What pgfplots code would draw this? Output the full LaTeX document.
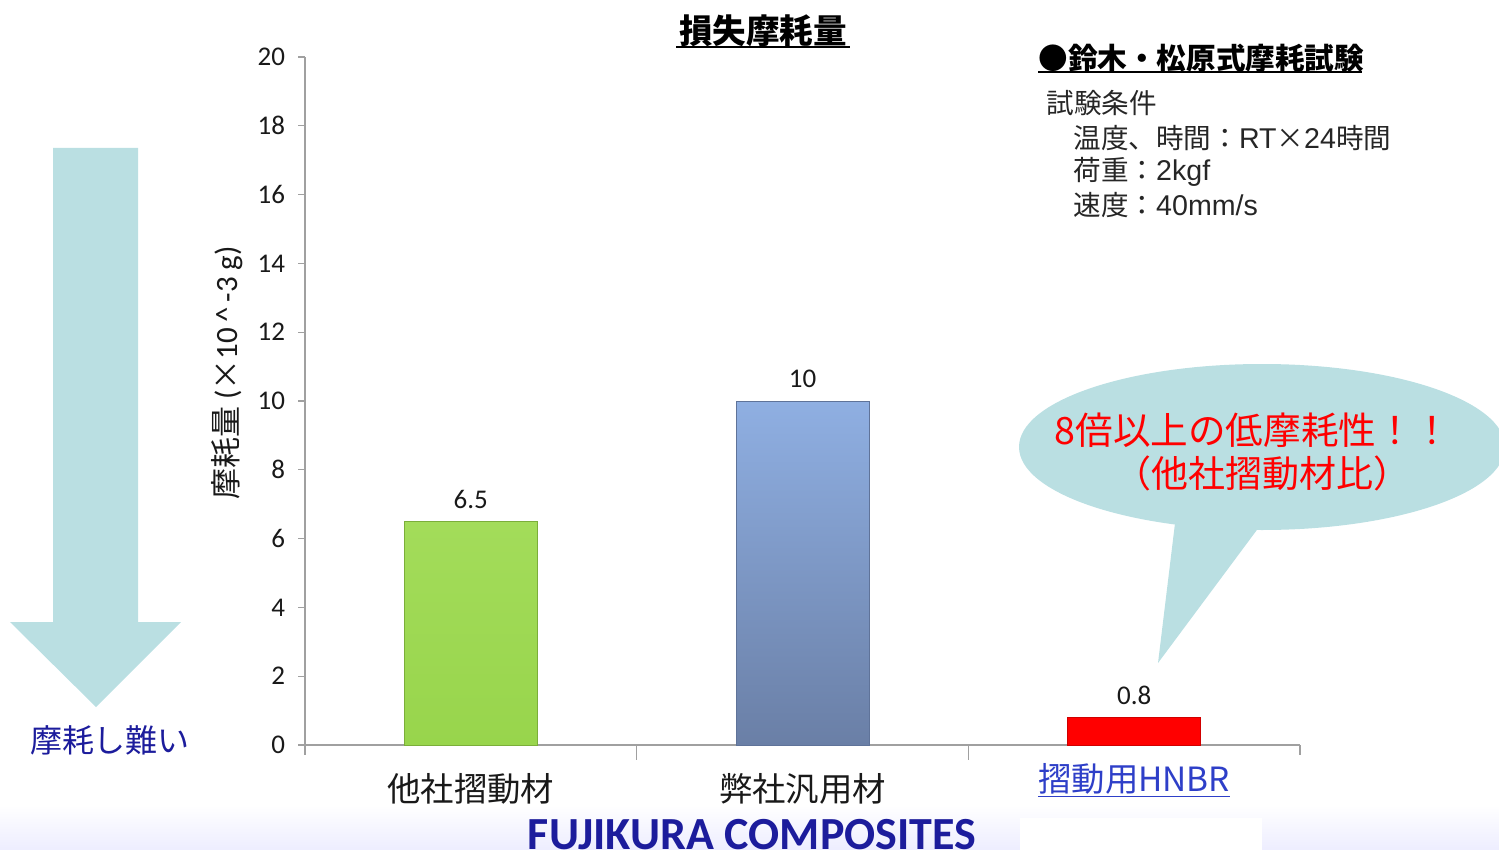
\documentclass[border=0pt]{standalone}
\usepackage{fontspec}
\usepackage{pgfplots}
\pgfplotsset{compat=1.18}
\setmainfont{Carlito}
\newfontfamily\jp{Noto Sans CJK JP}
\newfontfamily\arial{Liberation Sans}
\definecolor{bub}{HTML}{BADFE2}
\definecolor{navy}{HTML}{1C1C9C}
\definecolor{linkblue}{HTML}{2E3FC8}
\definecolor{axgray}{HTML}{A0A0A0}
\definecolor{gtop}{HTML}{A3DC5A}
\definecolor{gbot}{HTML}{98D54C}
\definecolor{gedge}{HTML}{7BAE3A}
\definecolor{btop}{HTML}{8FAFE2}
\definecolor{bbot}{HTML}{6A7FA6}
\definecolor{bedge}{HTML}{5F7399}
\definecolor{redge}{HTML}{D00000}
\begin{document}
\begin{tikzpicture}
\begin{scope}[x=0.5pt,y=-0.5pt]
\path[use as bounding box] (0,0) rectangle (1499,850);
\shade[top color=white, bottom color=blue!7] (0,805) rectangle (1499,850);
\fill[white] (1020,818) rectangle (1262,850);
% arrow
\fill[bub] (53,148) -- (138,148) -- (138,622) -- (181,622) -- (96,707) -- (10,622) -- (53,622) -- cycle;
\node[font=\jp\fontsize{16}{19}\selectfont, text=navy] at (110,740) {摩耗し難い};
% bubble
\fill[bub] (1262,447) ellipse [x radius=243, y radius=83];
\fill[bub] (1176,515) -- (1158,663) -- (1268,515) -- cycle;
\node[font=\jp\fontsize{18.8}{22}\selectfont, text=red] at (1253,430) {8倍以上の低摩耗性！！};
\node[font=\jp\fontsize{18.5}{22}\selectfont, text=red] at (1262,473) {（他社摺動材比）};
% title
\node[font=\jp\bfseries\fontsize{16.8}{20}\selectfont] at (763,31) {損失摩耗量};
\draw[line width=1pt] (676,47) -- (850,47);
% right info
\node[anchor=west, font=\jp\bfseries\fontsize{14.8}{18}\selectfont, inner sep=0pt] at (1038,58) {●鈴木・松原式摩耗試験};
\draw[line width=0.8pt] (1038,72) -- (1362,72);
\begin{scope}[every node/.style={anchor=west, inner sep=0pt, text=black!85, font=\jp\fontsize{13.8}{16}\selectfont}]
\node at (1046,103) {試験条件};
\node at (1073,138) {温度、時間：{\arial\fontsize{14.3}{16}\selectfont RT}×{\arial\fontsize{14.3}{16}\selectfont 24}時間};
\node at (1073,172) {荷重：{\arial\fontsize{14.3}{16}\selectfont 2kgf}};
\node at (1073,205) {速度：{\arial\fontsize{14.3}{16}\selectfont 40mm/s}};
\end{scope}
% y label
\node[rotate=90, font=\fontsize{15.5}{18}\selectfont, text=black!90] at (227,373) {{\jp 摩耗量}\ ({\jp ×}10\,\textasciicircum\,-3 g)};
% bottom brand
\node[font=\bfseries\fontsize{23}{26}\selectfont, text=navy] at (752,835) {FUJIKURA COMPOSITES};
\end{scope}
\begin{axis}[
  at={(152.5pt,-372.5pt)}, anchor=south west,
  scale only axis, width=497.5pt, height=344pt,
  xmin=-0.5, xmax=2.5, ymin=0, ymax=20,
  ytick={0,2,...,20},
  xtick={0,1,2},
  xticklabels={他社摺動材, 弊社汎用材, {\raisebox{0pt}[\dimexpr\height-5pt\relax]{\color{linkblue}\underline{摺動用HNBR}}}},
  xtick style={draw=none},
  axis x line*=bottom, axis y line*=left,
  axis line style={axgray, line width=0.6pt},
  ytick style={axgray, line width=0.6pt},
  tick align=outside, major tick length=3.5pt,
  /pgf/number format/assume math mode=true,
  yticklabel style={font=\fontsize{13.5}{15}\selectfont, text=black!90, xshift=-3pt},
  xticklabel style={font=\jp\fontsize{16.7}{19}\selectfont, text=black!90, yshift=-7pt},
  nodes near coords style={font=\fontsize{13.5}{15}\selectfont, text=black!90, yshift=3pt},
  clip=false,
]
\addplot[ybar, bar width=66.5pt, draw=gedge, top color=gtop, bottom color=gbot, nodes near coords] coordinates {(0,6.5)};
\addplot[ybar, bar width=66.5pt, draw=bedge, top color=btop, bottom color=bbot, nodes near coords] coordinates {(1,10)};
\addplot[ybar, bar width=66.5pt, draw=redge, fill=red, nodes near coords] coordinates {(2,0.8)};
\draw[axgray, line width=0.6pt] (axis cs:-0.5,0) -- ([yshift=-5pt]axis cs:-0.5,0);
\draw[axgray, line width=0.6pt] (axis cs:0.5,0) -- ([yshift=-7.5pt]axis cs:0.5,0);
\draw[axgray, line width=0.6pt] (axis cs:1.5,0) -- ([yshift=-7.5pt]axis cs:1.5,0);
\draw[axgray, line width=0.6pt] (axis cs:2.5,0) -- ([yshift=-5pt]axis cs:2.5,0);
\draw[axgray, line width=0.6pt] (axis cs:-0.5,0) -- ([xshift=-3.5pt]axis cs:-0.5,0);
\end{axis}
\end{tikzpicture}
\end{document}
